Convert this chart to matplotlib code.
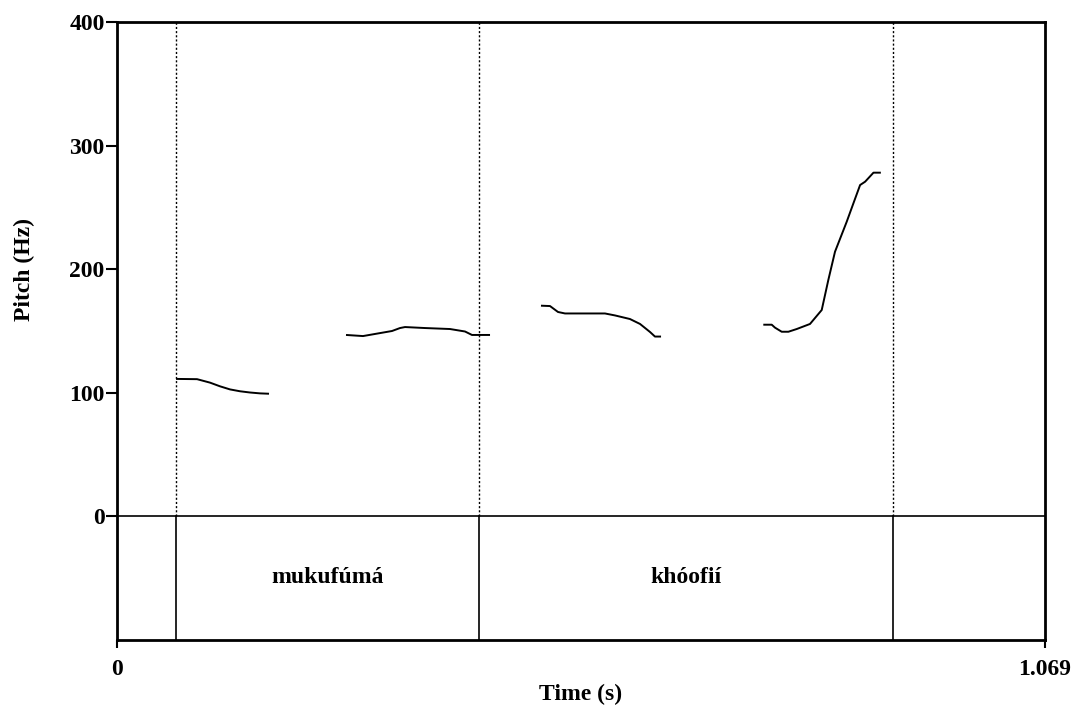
import matplotlib
matplotlib.use("Agg")
import matplotlib.pyplot as plt

# ---- data ----
t_seg1 = [0.0680, 0.0922, 0.1071, 0.1187, 0.1302, 0.1417, 0.1532, 0.1647, 0.1751]
f_seg1 = [111.0, 110.8, 108.0, 105.0, 102.5, 101.0, 100.0, 99.3, 99.0]

t_seg2 = [0.2638, 0.2834, 0.2972, 0.3168, 0.3260, 0.3318, 0.3548, 0.3836, 0.4009, 0.4089, 0.4297]
f_seg2 = [146.6, 145.7, 147.4, 149.8, 152.2, 153.0, 152.2, 151.4, 149.4, 146.6, 146.6]

t_seg3 = [0.4884, 0.4988, 0.5080, 0.5161, 0.5334, 0.5621, 0.5737, 0.5909, 0.6025, 0.6140, 0.6197, 0.6267]
f_seg3 = [170.3, 170.0, 165.2, 164.0, 164.0, 164.0, 162.4, 159.5, 155.5, 149.0, 145.3, 145.3]

t_seg4 = [0.7445, 0.7542, 0.7580, 0.7657, 0.7734, 0.7830, 0.7983, 0.8118, 0.8194, 0.8271,
          0.8406, 0.8483, 0.8560, 0.8618, 0.8714, 0.8799]
f_seg4 = [154.9, 154.9, 152.5, 149.2, 149.2, 151.4, 155.5, 166.8, 191.1, 214.0,
          238.3, 253.2, 268.0, 270.7, 278.0, 278.0]

boundaries = [0.0680, 0.4170, 0.8940]
words = ["mukufúmá", "khóofií"]
word_spans = [(0.0680, 0.4170), (0.4170, 0.8940)]

t_max = 1.069
yticks = [0, 100, 200, 300, 400]
tier_bottom = -100.4

plt.rcParams['font.family'] = ['Liberation Serif', 'DejaVu Serif']

fig = plt.figure(figsize=(10.77, 7.15), dpi=100)
W, H = 1077, 715
ax = fig.add_axes([117 / W, 1 - 640 / H, (1045 - 117) / W, (640 - 22) / H])
ax.set_xlim(0, t_max)
ax.set_ylim(tier_bottom, 400)

for t, f in [(t_seg1, f_seg1), (t_seg2, f_seg2), (t_seg3, f_seg3), (t_seg4, f_seg4)]:
    ax.plot(t, f, color='black', lw=1.4, solid_capstyle='butt')

ax.axhline(0, color='black', lw=1.2)
for b in boundaries:
    ax.plot([b, b], [0, 400], color='black', lw=1.0, ls=(0, (1.5, 1.5)))
    ax.plot([b, b], [tier_bottom, 0], color='black', lw=1.2)

FS = 17
for w, (a, b) in zip(words, word_spans):
    ax.text((a + b) / 2, -50, w, ha='center', va='center', fontsize=FS, fontweight='bold')

for s in ax.spines.values():
    s.set_linewidth(2.0)

ax.set_yticks(yticks)
ax.set_yticklabels([str(v) for v in yticks], fontsize=FS, fontweight='bold')
ax.set_xticks([0, t_max])
ax.set_xticklabels(['0', '1.069'], fontsize=FS, fontweight='bold')
ax.tick_params(axis='y', direction='out', length=8, width=1.5, pad=1)
ax.tick_params(axis='x', direction='out', length=6, width=1.5, pad=8)

ax.text(-0.1, (200 - tier_bottom) / (400 - tier_bottom), 'Pitch (Hz)', transform=ax.transAxes,
        rotation=90, ha='center', va='center', fontsize=FS, fontweight='bold')
fig.text(581 / W, 1 - 694 / H, 'Time (s)', ha='center', va='center', fontsize=FS, fontweight='bold')

fig.savefig('out.png', dpi=100)
